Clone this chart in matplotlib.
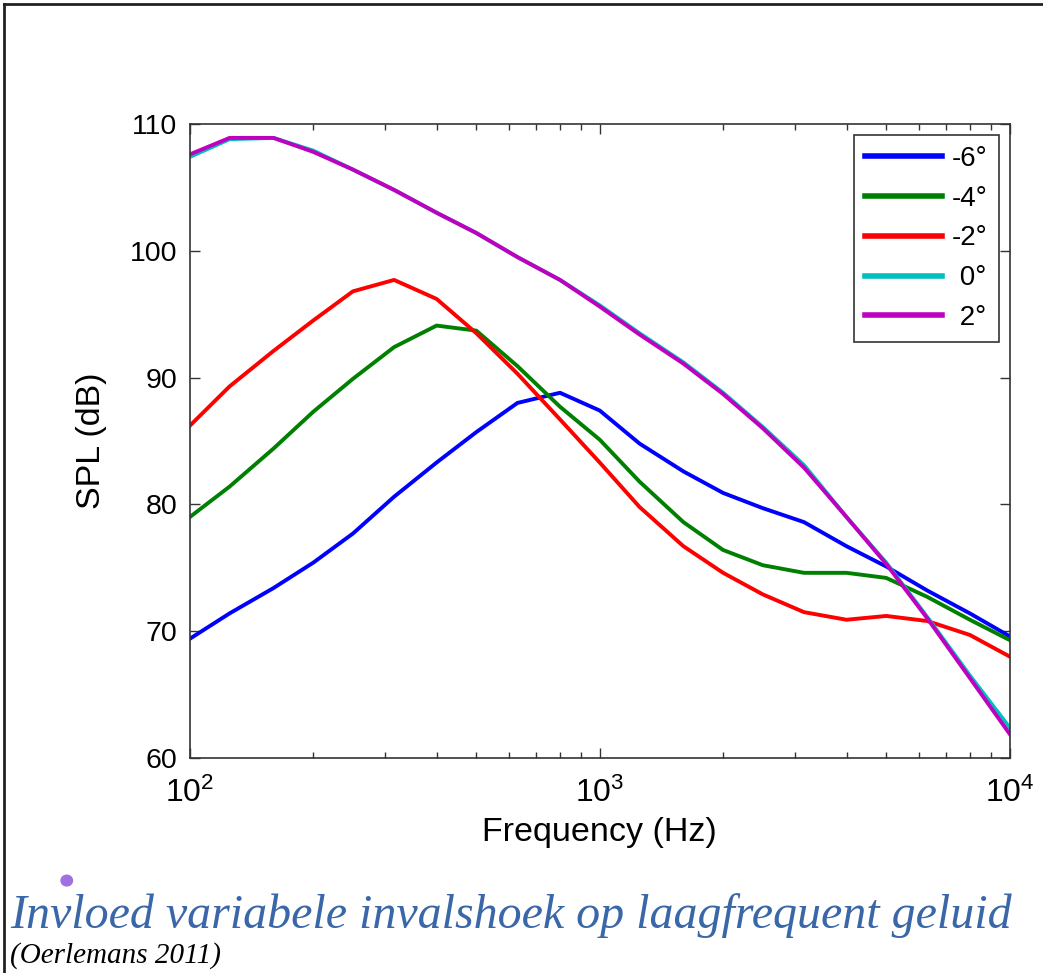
import matplotlib
matplotlib.use("Agg")
import matplotlib.pyplot as plt
from matplotlib.lines import Line2D
from matplotlib.patches import Ellipse

plt.rcParams['font.family'] = ['Liberation Sans', 'DejaVu Sans']
plt.rcParams['mathtext.fontset'] = 'custom'
plt.rcParams['mathtext.rm'] = 'Liberation Sans'
plt.rcParams['mathtext.it'] = 'Liberation Sans:italic'

# third-octave band centre frequencies (Hz)
freq = [100, 125, 160, 200, 250, 315, 400, 500, 630, 800, 1000,
        1250, 1600, 2000, 2500, 3150, 4000, 5000, 6300, 8000, 10000]

# SPL (dB) per angle of incidence
spl_m6 = [69.4, 71.4, 73.4, 75.4, 77.7, 80.6, 83.3, 85.7, 88.0, 88.8, 87.4,
          84.8, 82.6, 80.9, 79.7, 78.6, 76.7, 75.1, 73.2, 71.4, 69.6]
spl_m4 = [79.0, 81.4, 84.4, 87.3, 89.9, 92.4, 94.1, 93.7, 90.9, 87.7, 85.1,
          81.8, 78.6, 76.4, 75.2, 74.6, 74.6, 74.2, 72.7, 70.9, 69.3]
spl_m2 = [86.2, 89.3, 92.1, 94.5, 96.8, 97.7, 96.2, 93.5, 90.3, 86.7, 83.3,
          79.8, 76.7, 74.6, 72.9, 71.5, 70.9, 71.2, 70.8, 69.7, 68.0]
spl_0 = [107.4, 108.8, 108.9, 107.9, 106.4, 104.8, 103.0, 101.4, 99.5, 97.7, 95.7,
         93.5, 91.2, 88.8, 86.1, 83.1, 79.0, 75.4, 71.1, 66.5, 62.4]
spl_2 = [107.6, 108.9, 108.9, 107.8, 106.4, 104.8, 103.0, 101.4, 99.5, 97.7, 95.6,
         93.4, 91.1, 88.7, 86.0, 82.9, 79.0, 75.3, 71.0, 66.3, 61.9]

labels = ['-6°', '-4°', '-2°', ' 0°', ' 2°']
colors = ['#0000ff', '#008000', '#ff0000', '#00bfbf', '#bf00bf']

fig = plt.figure(figsize=(10.43, 9.73), dpi=100)
ax = fig.add_axes([0.182, 0.221, 0.786, 0.6516])

for y, lab, c in zip([spl_m6, spl_m4, spl_m2, spl_0, spl_2], labels, colors):
    ax.plot(freq, y, color=c, lw=2.8, label=lab)

ax.set_xscale('log')
ax.set_xlim(100, 10000)
ax.set_ylim(60, 110)
ax.set_yticks([60, 70, 80, 90, 100, 110])
ax.tick_params(which='both', direction='in', top=True, right=True, color='#333333')
ax.tick_params(which='major', length=7, width=1)
ax.tick_params(which='minor', length=4, width=1)
ax.tick_params(axis='y', pad=9, labelsize=20.5)
ax.tick_params(axis='x', pad=14, labelsize=23)
for s in ax.spines.values():
    s.set_color('#333333')
    s.set_linewidth(1.2)

ax.set_xlabel('Frequency (Hz)', fontsize=24.5, va='center')
ax.set_ylabel('SPL (dB)', fontsize=24.5, va='center')
ax.xaxis.set_label_coords(0.5, -0.118)
ax.yaxis.set_label_coords(-0.12, 0.5)

leg = ax.legend(loc='upper right', fontsize=20, handlelength=2.77, handletextpad=0.36,
                labelspacing=0.5, borderpad=0.4, fancybox=False, framealpha=1,
                borderaxespad=0.38)
leg.get_frame().set_edgecolor('#333333')
leg.get_frame().set_linewidth(1.2)
for h in leg.get_lines():
    h.set_linewidth(4)

# caption below the chart
fig.text(0.01, 0.046, 'Invloed variabele invalshoek op laagfrequent geluid',
         family='Liberation Serif', style='italic', fontsize=34.6, color='#3a67a8')
fig.text(0.01, 0.011, '(Oerlemans 2011)', family='Liberation Serif', style='italic',
         fontsize=21, color='black')
fig.add_artist(Ellipse((0.064, 0.095), 0.011, 0.011, color='#a070e0', transform=fig.transFigure))

# slide frame
fig.add_artist(Line2D([0.004, 1], [0.996, 0.996], color='#222222', lw=2, transform=fig.transFigure))
fig.add_artist(Line2D([0.004, 0.004], [0, 0.996], color='#222222', lw=2, transform=fig.transFigure))

fig.savefig('out.png', dpi=100)
